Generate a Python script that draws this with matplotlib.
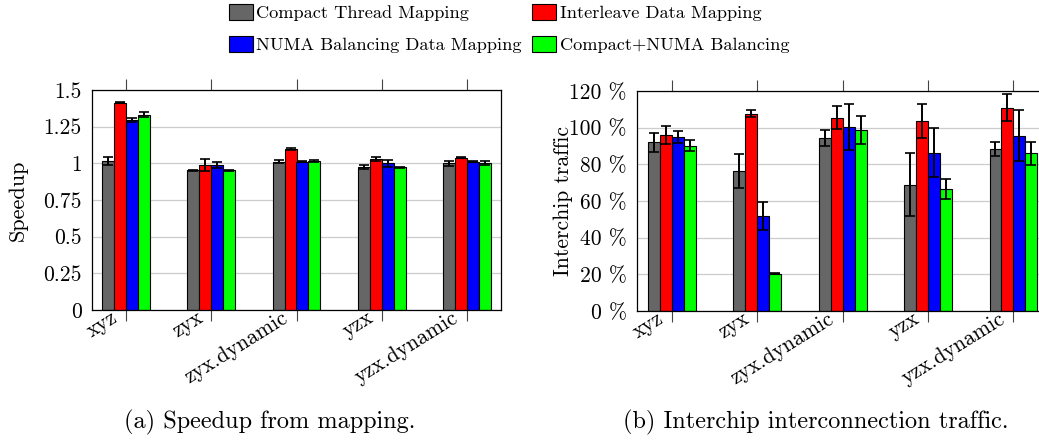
import matplotlib
matplotlib.use("Agg")
import matplotlib.pyplot as plt
import matplotlib.transforms as mtransforms
import numpy as np
from matplotlib.patches import Patch

plt.rcParams['font.family'] = ['cmr10', 'DejaVu Serif']
plt.rcParams['axes.formatter.use_mathtext'] = True
plt.rcParams['mathtext.fontset'] = 'cm'

categories = ["xyz", "zyx", "zyx.dynamic", "yzx", "yzx.dynamic"]
series_names = ["Compact Thread Mapping", "Interleave Data Mapping",
                "NUMA Balancing Data Mapping", "Compact+NUMA Balancing"]
colors = ["#666666", "#ff0000", "#0000ff", "#00ff00"]

speedup_compact = [1.016, 0.952, 1.011, 0.973, 1.000]
speedup_interleave = [1.414, 0.989, 1.100, 1.030, 1.039]
speedup_numa = [1.295, 0.990, 1.011, 1.000, 1.011]
speedup_combo = [1.332, 0.952, 1.016, 0.973, 1.000]
speedup_err_compact = [0.030, 0.002, 0.010, 0.015, 0.015]
speedup_err_interleave = [0.006, 0.040, 0.006, 0.015, 0.003]
speedup_err_numa = [0.012, 0.020, 0.003, 0.025, 0.003]
speedup_err_combo = [0.015, 0.002, 0.007, 0.002, 0.013]

traffic_compact = [92.0, 76.5, 94.5, 68.9, 88.5]
traffic_interleave = [96.2, 107.6, 105.5, 103.6, 110.9]
traffic_numa = [94.9, 52.0, 100.4, 86.4, 95.6]
traffic_combo = [90.2, 20.4, 98.7, 66.4, 86.0]
traffic_err_compact = [5.2, 9.3, 4.5, 17.3, 3.8]
traffic_err_interleave = [4.9, 1.8, 6.4, 9.1, 7.3]
traffic_err_numa = [3.1, 7.6, 12.4, 13.3, 13.8]
traffic_err_combo = [3.0, 0.3, 7.6, 5.5, 6.4]

speedup_ticks = [0, 0.25, 0.5, 0.75, 1, 1.25, 1.5]
speedup_ticklabels = ["0", "0.25", "0.5", "0.75", "1", "1.25", "1.5"]
traffic_ticks = [0, 20, 40, 60, 80, 100, 120]
traffic_ticklabels = ["0 %", "20 %", "40 %", "60 %", "80 %", "100 %", "120 %"]

W, H = 1039, 445
fig = plt.figure(figsize=(W / 100, H / 100), dpi=100)

def px_axes(x0, y0, x1, y1):
    return fig.add_axes([x0 / W, 1 - y1 / H, (x1 - x0) / W, (y1 - y0) / H])

ax1 = px_axes(92, 90, 501, 310)
ax2 = px_axes(637, 91, 1045, 311)

bw = 0.14
fs = 15.5
fs_lab = 16.0
fs_cap = 17.5
fs_leg = 13.2

def draw(ax, vals, errs, ticks, ticklabels, ymax, xlim):
    x = np.arange(len(categories))
    for i, (v, e, c) in enumerate(zip(vals, errs, colors)):
        pos = x + (i - 1.5) * bw
        ax.bar(pos, v, width=bw, color=c, edgecolor="black", linewidth=0.8, zorder=2)
        ax.errorbar(pos, v, yerr=e, fmt="none", ecolor="black", elinewidth=1.4,
                    capsize=3.8, capthick=1.2, zorder=3)
    ax.set_xlim(*xlim)
    ax.set_ylim(0, ymax)
    ax.set_yticks(ticks)
    ax.set_yticklabels(ticklabels, fontsize=fs)
    ax.tick_params(axis="y", length=0, pad=7.5)
    ax.set_xticks(x)
    ax.set_xticklabels(categories, rotation=32, ha="right", va="center",
                       rotation_mode="anchor", fontsize=fs)
    ax.tick_params(axis="x", direction="out", length=8, width=0.8, top=True,
                   color="#444444", pad=0)
    off = mtransforms.ScaledTranslation(-10 / 100, 5.0 / 100, fig.dpi_scale_trans)
    for lab in ax.get_xticklabels():
        lab.set_transform(lab.get_transform() + off)
    ax.grid(axis="y", color="#cccccc", linewidth=0.9, zorder=0)
    ax.set_axisbelow(True)
    for s in ax.spines.values():
        s.set_linewidth(0.9)
        s.set_color("black")

draw(ax1, [speedup_compact, speedup_interleave, speedup_numa, speedup_combo],
     [speedup_err_compact, speedup_err_interleave, speedup_err_numa, speedup_err_combo],
     speedup_ticks, speedup_ticklabels, 1.5, (-0.4, 4.4))
draw(ax2, [traffic_compact, traffic_interleave, traffic_numa, traffic_combo],
     [traffic_err_compact, traffic_err_interleave, traffic_err_numa, traffic_err_combo],
     traffic_ticks, traffic_ticklabels, 120, (-0.41, 4.37))

ax1.set_ylabel("Speedup", fontsize=fs_lab)
ax2.set_ylabel("Interchip traffic", fontsize=fs)
ax1.yaxis.set_label_coords((28 - 92) / 409, 0.5)
ax2.yaxis.set_label_coords((573 - 637) / 408, 0.5)

fig.text(270 / W, 1 - 422 / H, "(a) Speedup from mapping.", ha="center", va="center", fontsize=fs_cap)
fig.text(816 / W, 1 - 422 / H, "(b) Interchip interconnection traffic.", ha="center", va="center", fontsize=fs_cap)

handles = [Patch(facecolor=c, edgecolor="black", linewidth=0.8) for c in colors]
order = [0, 2, 1, 3]
fig.legend([handles[i] for i in order], [series_names[i] for i in order],
           ncol=2, loc="upper left", bbox_to_anchor=(229 / W, 1 - 4 / H),
           frameon=False, fontsize=fs_leg, handlelength=1.3, handleheight=0.95,
           handletextpad=0.2, columnspacing=0.55, labelspacing=0.8,
           borderpad=0.0, borderaxespad=0.0)

fig.savefig("out.png", dpi=100)
